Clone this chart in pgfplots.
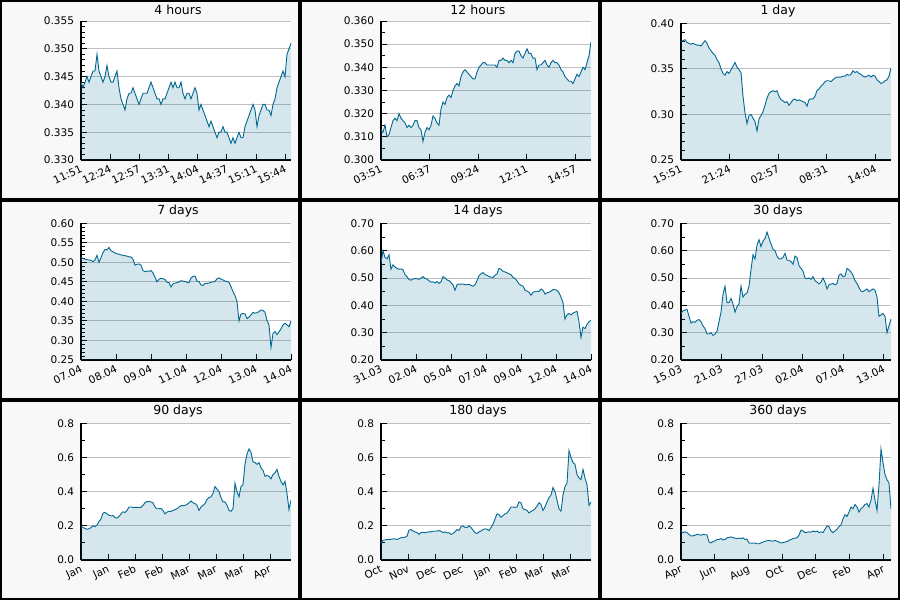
\documentclass[border=0pt]{standalone}
\usepackage{pgfplots}
\usepackage{pgfplotstable}
\pgfplotsset{compat=1.18}
\usepackage{fontspec}
\setmainfont{DejaVu Sans}

\definecolor{linec}{RGB}{0,104,145}
\definecolor{panelbg}{RGB}{248,248,248}
\definecolor{gridc}{RGB}{192,192,192}

% price series, evenly spaced samples over each window
\pgfplotstableread[row sep=\\]{v\\
0.344\\0.343\\0.344\\0.345\\0.344\\0.345\\0.346\\0.346\\0.349\\0.346\\
0.345\\0.344\\0.345\\0.347\\0.345\\0.344\\0.344\\0.345\\0.346\\0.343\\
0.341\\0.340\\0.339\\0.341\\0.342\\0.342\\0.343\\0.342\\0.341\\0.340\\
0.341\\0.342\\0.342\\0.342\\0.343\\0.344\\0.343\\0.342\\0.341\\0.341\\
0.340\\0.341\\0.341\\0.342\\0.343\\0.344\\0.343\\0.344\\0.343\\0.343\\
0.344\\0.342\\0.341\\0.342\\0.342\\0.341\\0.342\\0.343\\0.342\\0.339\\
0.340\\0.339\\0.338\\0.337\\0.336\\0.337\\0.336\\0.335\\0.334\\0.335\\
0.335\\0.336\\0.335\\0.335\\0.334\\0.333\\0.334\\0.333\\0.334\\0.335\\
0.334\\0.334\\0.336\\0.337\\0.338\\0.339\\0.340\\0.339\\0.336\\0.338\\
0.339\\0.340\\0.340\\0.339\\0.339\\0.338\\0.340\\0.341\\0.343\\0.344\\
0.345\\0.346\\0.345\\0.349\\0.350\\0.351\\}\tabA

\pgfplotstableread[row sep=\\]{v\\
0.313\\0.312\\0.315\\0.310\\0.311\\0.314\\0.317\\0.318\\0.317\\0.320\\
0.318\\0.317\\0.316\\0.314\\0.315\\0.314\\0.315\\0.317\\0.317\\0.314\\
0.313\\0.308\\0.312\\0.314\\0.313\\0.315\\0.319\\0.318\\0.316\\0.315\\
0.322\\0.325\\0.324\\0.327\\0.328\\0.327\\0.330\\0.332\\0.333\\0.332\\
0.336\\0.338\\0.339\\0.338\\0.337\\0.336\\0.335\\0.335\\0.338\\0.340\\
0.341\\0.342\\0.342\\0.341\\0.341\\0.341\\0.341\\0.341\\0.340\\0.343\\
0.343\\0.344\\0.343\\0.343\\0.342\\0.343\\0.342\\0.346\\0.347\\0.347\\
0.345\\0.344\\0.346\\0.348\\0.346\\0.346\\0.344\\0.344\\0.339\\0.341\\
0.341\\0.342\\0.343\\0.341\\0.340\\0.342\\0.343\\0.342\\0.342\\0.341\\
0.339\\0.338\\0.336\\0.335\\0.334\\0.334\\0.333\\0.335\\0.337\\0.336\\
0.338\\0.340\\0.339\\0.342\\0.345\\0.351\\}\tabB

\pgfplotstableread[row sep=\\]{v\\
0.380\\0.381\\0.382\\0.379\\0.378\\0.377\\0.378\\0.377\\0.376\\0.376\\
0.375\\0.378\\0.381\\0.378\\0.373\\0.370\\0.367\\0.365\\0.360\\0.357\\
0.350\\0.345\\0.343\\0.347\\0.345\\0.349\\0.353\\0.357\\0.352\\0.349\\
0.346\\0.320\\0.302\\0.290\\0.299\\0.300\\0.296\\0.292\\0.282\\0.295\\
0.299\\0.303\\0.310\\0.318\\0.323\\0.325\\0.326\\0.325\\0.326\\0.320\\
0.316\\0.315\\0.313\\0.314\\0.310\\0.313\\0.316\\0.317\\0.315\\0.316\\
0.315\\0.314\\0.313\\0.309\\0.316\\0.317\\0.317\\0.320\\0.326\\0.328\\
0.331\\0.333\\0.336\\0.337\\0.337\\0.336\\0.338\\0.340\\0.341\\0.341\\
0.341\\0.342\\0.342\\0.344\\0.343\\0.344\\0.348\\0.346\\0.347\\0.345\\
0.344\\0.342\\0.341\\0.342\\0.343\\0.341\\0.343\\0.342\\0.338\\0.336\\
0.334\\0.335\\0.337\\0.338\\0.342\\0.351\\}\tabC

\pgfplotstableread[row sep=\\]{v\\
0.513\\0.510\\0.508\\0.507\\0.506\\0.505\\0.502\\0.506\\0.518\\0.500\\
0.512\\0.525\\0.533\\0.532\\0.538\\0.530\\0.527\\0.524\\0.522\\0.521\\
0.519\\0.518\\0.517\\0.516\\0.514\\0.514\\0.508\\0.493\\0.495\\0.496\\
0.493\\0.479\\0.476\\0.478\\0.477\\0.479\\0.473\\0.462\\0.450\\0.457\\
0.459\\0.458\\0.456\\0.449\\0.448\\0.437\\0.445\\0.447\\0.448\\0.450\\
0.453\\0.452\\0.451\\0.449\\0.448\\0.460\\0.464\\0.465\\0.452\\0.451\\
0.442\\0.441\\0.446\\0.446\\0.447\\0.449\\0.450\\0.451\\0.458\\0.460\\
0.457\\0.455\\0.452\\0.451\\0.449\\0.438\\0.425\\0.415\\0.400\\0.350\\
0.368\\0.369\\0.368\\0.356\\0.360\\0.365\\0.372\\0.370\\0.371\\0.374\\
0.378\\0.377\\0.372\\0.351\\0.340\\0.282\\0.318\\0.323\\0.315\\0.322\\
0.330\\0.340\\0.344\\0.340\\0.335\\0.350\\}\tabD

\pgfplotstableread[row sep=\\]{v\\
0.555\\0.600\\0.575\\0.570\\0.585\\0.532\\0.548\\0.540\\0.535\\0.532\\
0.533\\0.530\\0.512\\0.505\\0.494\\0.492\\0.496\\0.498\\0.497\\0.495\\
0.500\\0.505\\0.498\\0.496\\0.490\\0.485\\0.486\\0.482\\0.487\\0.480\\
0.486\\0.505\\0.500\\0.493\\0.490\\0.482\\0.475\\0.455\\0.475\\0.478\\
0.477\\0.478\\0.476\\0.475\\0.477\\0.473\\0.470\\0.475\\0.490\\0.508\\
0.515\\0.520\\0.512\\0.510\\0.505\\0.503\\0.502\\0.510\\0.515\\0.535\\
0.532\\0.525\\0.522\\0.519\\0.515\\0.512\\0.502\\0.498\\0.490\\0.478\\
0.473\\0.470\\0.455\\0.452\\0.448\\0.437\\0.448\\0.450\\0.452\\0.450\\
0.460\\0.455\\0.441\\0.446\\0.448\\0.452\\0.458\\0.457\\0.455\\0.446\\
0.430\\0.410\\0.350\\0.365\\0.370\\0.365\\0.372\\0.375\\0.378\\0.340\\
0.282\\0.320\\0.315\\0.330\\0.340\\0.345\\}\tabE

\pgfplotstableread[row sep=\\]{v\\
0.370\\0.380\\0.383\\0.385\\0.360\\0.335\\0.340\\0.338\\0.345\\0.348\\
0.340\\0.325\\0.315\\0.295\\0.295\\0.300\\0.290\\0.295\\0.305\\0.340\\
0.375\\0.440\\0.470\\0.410\\0.410\\0.425\\0.405\\0.375\\0.395\\0.405\\
0.470\\0.430\\0.440\\0.445\\0.470\\0.530\\0.585\\0.570\\0.620\\0.640\\
0.615\\0.635\\0.645\\0.668\\0.645\\0.625\\0.605\\0.600\\0.580\\0.570\\
0.570\\0.575\\0.590\\0.565\\0.565\\0.560\\0.550\\0.580\\0.575\\0.545\\
0.535\\0.525\\0.500\\0.497\\0.500\\0.495\\0.505\\0.490\\0.485\\0.478\\
0.485\\0.500\\0.485\\0.460\\0.475\\0.478\\0.480\\0.475\\0.480\\0.510\\
0.515\\0.505\\0.507\\0.535\\0.530\\0.522\\0.510\\0.490\\0.480\\0.465\\
0.452\\0.450\\0.455\\0.460\\0.450\\0.455\\0.460\\0.455\\0.430\\0.360\\
0.365\\0.370\\0.360\\0.300\\0.325\\0.350\\}\tabF

\pgfplotstableread[row sep=\\]{v\\
0.195\\0.190\\0.185\\0.180\\0.183\\0.190\\0.200\\0.195\\0.205\\0.225\\
0.240\\0.275\\0.278\\0.270\\0.262\\0.258\\0.260\\0.248\\0.245\\0.255\\
0.270\\0.282\\0.278\\0.290\\0.310\\0.310\\0.308\\0.308\\0.308\\0.307\\
0.308\\0.320\\0.335\\0.342\\0.342\\0.340\\0.335\\0.310\\0.300\\0.300\\
0.302\\0.290\\0.270\\0.280\\0.285\\0.285\\0.290\\0.295\\0.300\\0.310\\
0.318\\0.318\\0.320\\0.325\\0.335\\0.345\\0.335\\0.330\\0.320\\0.290\\
0.310\\0.320\\0.330\\0.355\\0.365\\0.370\\0.390\\0.430\\0.415\\0.400\\
0.365\\0.340\\0.340\\0.320\\0.290\\0.285\\0.300\\0.450\\0.400\\0.370\\
0.430\\0.440\\0.560\\0.620\\0.650\\0.630\\0.575\\0.570\\0.560\\0.570\\
0.540\\0.525\\0.490\\0.495\\0.490\\0.475\\0.500\\0.510\\0.530\\0.490\\
0.460\\0.440\\0.460\\0.390\\0.295\\0.350\\}\tabG

\pgfplotstableread[row sep=\\]{v\\
0.100\\0.115\\0.118\\0.120\\0.120\\0.121\\0.123\\0.124\\0.120\\0.125\\
0.130\\0.132\\0.133\\0.140\\0.175\\0.178\\0.170\\0.165\\0.160\\0.150\\
0.160\\0.162\\0.160\\0.163\\0.165\\0.165\\0.168\\0.168\\0.170\\0.172\\
0.168\\0.160\\0.165\\0.158\\0.160\\0.150\\0.155\\0.165\\0.178\\0.172\\
0.195\\0.200\\0.190\\0.190\\0.200\\0.190\\0.175\\0.160\\0.155\\0.165\\
0.170\\0.178\\0.182\\0.180\\0.172\\0.190\\0.210\\0.240\\0.270\\0.265\\
0.250\\0.260\\0.270\\0.275\\0.290\\0.310\\0.310\\0.308\\0.310\\0.340\\
0.335\\0.300\\0.295\\0.290\\0.275\\0.285\\0.290\\0.300\\0.315\\0.335\\
0.325\\0.290\\0.310\\0.340\\0.365\\0.380\\0.425\\0.400\\0.350\\0.300\\
0.285\\0.380\\0.430\\0.450\\0.640\\0.600\\0.570\\0.560\\0.500\\0.480\\
0.470\\0.530\\0.480\\0.440\\0.320\\0.340\\}\tabH

\pgfplotstableread[row sep=\\]{v\\
0.165\\0.160\\0.165\\0.160\\0.150\\0.140\\0.142\\0.145\\0.150\\0.148\\
0.145\\0.150\\0.148\\0.148\\0.105\\0.100\\0.108\\0.112\\0.120\\0.120\\
0.125\\0.118\\0.120\\0.130\\0.132\\0.135\\0.130\\0.128\\0.125\\0.128\\
0.125\\0.130\\0.120\\0.122\\0.100\\0.098\\0.098\\0.100\\0.095\\0.095\\
0.100\\0.105\\0.110\\0.112\\0.115\\0.112\\0.110\\0.115\\0.110\\0.105\\
0.100\\0.102\\0.105\\0.108\\0.115\\0.120\\0.125\\0.128\\0.130\\0.145\\
0.175\\0.170\\0.160\\0.162\\0.165\\0.163\\0.170\\0.165\\0.170\\0.160\\
0.165\\0.160\\0.180\\0.200\\0.195\\0.170\\0.160\\0.170\\0.180\\0.195\\
0.205\\0.240\\0.265\\0.255\\0.280\\0.310\\0.300\\0.325\\0.310\\0.280\\
0.300\\0.310\\0.325\\0.330\\0.310\\0.350\\0.420\\0.350\\0.290\\0.440\\
0.650\\0.570\\0.500\\0.470\\0.450\\0.300\\}\tabI

\pgfplotsset{
  panel/.style={
    scale only axis, width=210pt, anchor=south west,
    xmin=0,
    axis background/.style={fill=white},
    axis x line*=bottom, axis y line*=left,
    axis line style={-, line width=1.1pt, black},
    every outer x axis line/.append style={-},
    every outer y axis line/.append style={-},
    tick align=inside, major tick length=6pt, minor tick length=3.5pt,
    tick style={black, line width=0.9pt},
    xminorticks=false,
    ymajorgrids, grid style={gridc, line width=0.9pt},
    scaled y ticks=false,
    /pgf/number format/assume math mode=true,
    ticklabel style={font=\fontsize{10.5}{12}\selectfont},
    yticklabel style={/pgf/number format/fixed, /pgf/number format/fixed zerofill, xshift=-3.5pt},
    xticklabel style={rotate=25, anchor=north east, inner sep=1pt, xshift=-2pt, yshift=-2.5pt},
  },
  area/.style={draw=none, fill=linec, fill opacity=0.16},
  trace/.style={draw=linec, line width=0.9pt, mark=none},
}

\newcommand{\series}[2]{%
  \addplot[area] table[x expr=\coordindex*#2, y index=0] {#1} \closedcycle;
  \addplot[trace] table[x expr=\coordindex*#2, y index=0] {#1};
}

\begin{document}
\begin{tikzpicture}
\useasboundingbox (0pt,0pt) rectangle (900pt,600pt);
\begin{scope}[x=1pt, y=1pt]
\foreach \c in {0,1,2}{
  \foreach \r in {0,1,2}{
    \draw[line width=2pt, fill=panelbg] (300*\c+1, 600-200*\r-1) rectangle (300*\c+299, 600-200*\r-199);
  }
}
\end{scope}

% ---- row 1 ----
\begin{axis}[panel, at={(81pt,440pt)}, height=139pt,
  xmax=240, ymin=0.330, ymax=0.355, ytick={0.330,0.335,...,0.356}, minor y tick num=4,
  yticklabel style={/pgf/number format/precision=3},
  xtick={0,33.333,66.667,100,133.333,166.667,200,233.333},
  xticklabels={11:51,12:24,12:57,13:31,14:04,14:37,15:11,15:44}]
\series{\tabA}{2.285714}
\end{axis}

\begin{axis}[panel, at={(381pt,440pt)}, height=139pt,
  xmax=720, ymin=0.300, ymax=0.360, ytick={0.300,0.310,...,0.361}, minor y tick num=1,
  yticklabel style={/pgf/number format/precision=3},
  xtick={0,166.667,333.333,500,666.667},
  xticklabels={03:51,06:37,09:24,12:11,14:57}]
\series{\tabB}{6.857143}
\end{axis}

\begin{axis}[panel, at={(681pt,440pt)}, height=136.7pt,
  xmax=1440, ymin=0.25, ymax=0.40, ytick={0.25,0.30,...,0.41}, minor y tick num=4,
  yticklabel style={/pgf/number format/precision=2},
  xtick={0,333.333,666.667,1000,1333.333},
  xticklabels={15:51,21:24,02:57,08:31,14:04}]
\series{\tabC}{13.714286}
\end{axis}

% ---- row 2 ----
\begin{axis}[panel, at={(81pt,240pt)}, height=136.7pt,
  xmax=168, ymin=0.25, ymax=0.60, ytick={0.25,0.30,...,0.61}, minor y tick num=4,
  yticklabel style={/pgf/number format/precision=2},
  xtick={0,28,56,84,112,140,168},
  xticklabels={07.04,08.04,09.04,11.04,12.04,13.04,14.04}]
\series{\tabD}{1.6}
\end{axis}

\begin{axis}[panel, at={(381pt,240pt)}, height=136.7pt,
  xmax=336, ymin=0.20, ymax=0.70, ytick={0.20,0.30,...,0.71}, minor y tick num=1,
  yticklabel style={/pgf/number format/precision=2},
  xtick={0,56,112,168,224,280,336},
  xticklabels={31.03,02.04,05.04,07.04,09.04,12.04,14.04}]
\series{\tabE}{3.2}
\end{axis}

\begin{axis}[panel, at={(681pt,240pt)}, height=136.7pt,
  xmax=30, ymin=0.20, ymax=0.70, ytick={0.20,0.30,...,0.71}, minor y tick num=1,
  yticklabel style={/pgf/number format/precision=2},
  xtick={0,5.79,11.58,17.37,23.16,28.95},
  xticklabels={15.03,21.03,27.03,02.04,07.04,13.04}]
\series{\tabF}{0.285714}
\end{axis}

% ---- row 3 ----
\begin{axis}[panel, at={(81pt,40pt)}, height=136.7pt,
  xmax=90, ymin=0, ymax=0.8, ytick={0,0.2,...,0.81}, minor y tick num=1,
  yticklabel style={/pgf/number format/precision=1},
  xtick={0,11.57,23.14,34.71,46.29,57.86,69.43,81.0},
  xticklabels={Jan,Jan,Feb,Feb,Mar,Mar,Mar,Apr}]
\series{\tabG}{0.857143}
\end{axis}

\begin{axis}[panel, at={(381pt,40pt)}, height=136.7pt,
  xmax=180, ymin=0, ymax=0.8, ytick={0,0.2,...,0.81}, minor y tick num=1,
  yticklabel style={/pgf/number format/precision=1},
  xtick={0,23.14,46.29,69.43,92.57,115.71,138.86,162.0},
  xticklabels={Oct,Nov,Dec,Dec,Jan,Feb,Mar,Mar}]
\series{\tabH}{1.714286}
\end{axis}

\begin{axis}[panel, at={(681pt,40pt)}, height=136.7pt,
  xmax=360, ymin=0, ymax=0.8, ytick={0,0.2,...,0.81}, minor y tick num=1,
  yticklabel style={/pgf/number format/precision=1},
  xtick={0,57.8,115.6,173.4,231.2,289.0,346.8},
  xticklabels={Apr,Jun,Aug,Oct,Dec,Feb,Apr}]
\series{\tabI}{3.428571}
\end{axis}

% panel titles
\begin{scope}[x=1pt, y=1pt, every node/.style={anchor=base, font=\fontsize{12.5}{14}\selectfont}]
\node at (178,585) {4 hours};
\node at (478,585) {12 hours};
\node at (778,585) {1 day};
\node at (178,385) {7 days};
\node at (478,385) {14 days};
\node at (778,385) {30 days};
\node at (178,185) {90 days};
\node at (478,185) {180 days};
\node at (778,185) {360 days};
\end{scope}
\end{tikzpicture}
\end{document}
